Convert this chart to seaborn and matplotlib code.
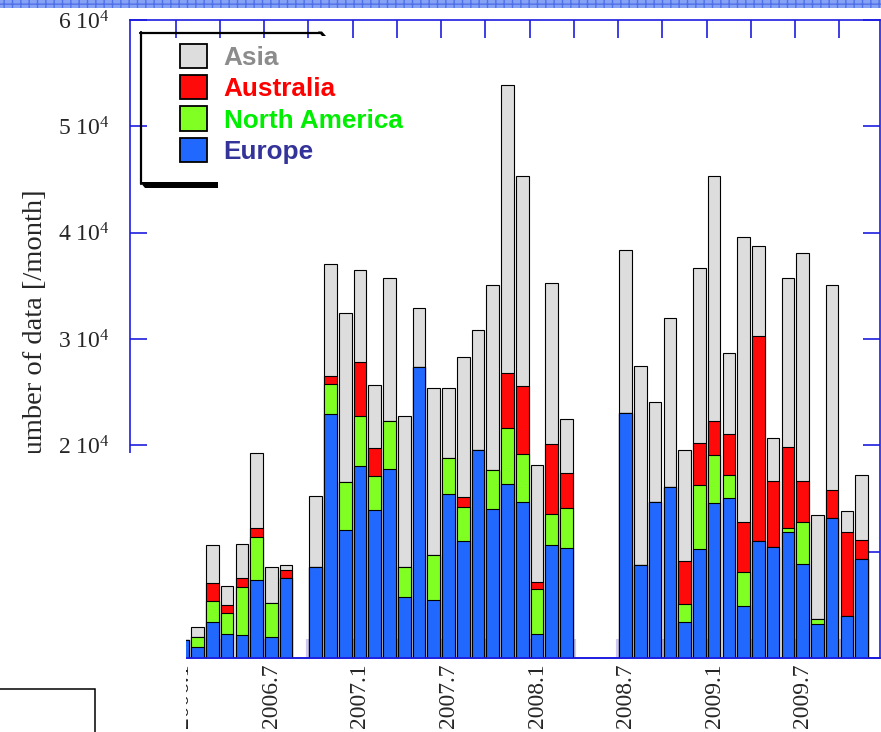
import numpy as np
import pandas as pd
import matplotlib
matplotlib.use("Agg")
import matplotlib.pyplot as plt
import seaborn as sns
from matplotlib.patches import Rectangle, Patch, Polygon
from matplotlib.lines import Line2D
from matplotlib.ticker import FixedLocator

# ---------------- data ----------------
months = [f"{y}.{m}" for y in range(2006, 2010) for m in range(1, 13)]

europe = [1700, 1060, 3360, 2230, 2130, 7310, 1950, 7500, None,
          8570, 22920, 12040, 18060, 13920, 17750, 5740, 27400, 5430, 15400,
          11000, 19570, 14000, 16330, 14690, 2280, 10630, 10390,
          None, None, None,
          23080, 8750, 14650, 16120, 3420, 10290, 14610, 15080, 4860, 11010,
          10470, 11820, 8840, 3170, 13140, 3950, 9310, None]
north_america = [0, 890, 2000, 1970, 4520, 4100, 3250, 0, None,
                 0, 2890, 4520, 4740, 3200, 4550, 2820, 0, 4290, 3390,
                 3200, 0, 3690, 5330, 4530, 4170, 2920, 3680,
                 None, None, None,
                 0, 0, 0, 0, 1630, 5960, 4520, 2110, 3200, 0,
                 0, 380, 3920, 470, 0, 0, 0, None]
australia = [0, 0, 1670, 760, 850, 790, 0, 810, None,
             0, 690, 0, 5020, 2610, 0, 0, 0, 0, 0,
             970, 0, 0, 5110, 6340, 730, 6550, 3310,
             None, None, None,
             0, 0, 0, 0, 4050, 3950, 3140, 3880, 4730, 19280,
             6210, 7620, 3920, 0, 2660, 7930, 1790, None]
asia = [0, 1000, 3600, 1840, 3200, 7110, 3330, 410, None,
        6630, 10600, 15930, 8680, 5950, 13480, 14210, 5500, 15710, 6640,
        13170, 11320, 17370, 27090, 19770, 10930, 15130, 5110,
        None, None, None,
        15330, 18690, 9400, 15830, 10440, 16520, 23070, 7650, 26780, 8410,
        4040, 15900, 21390, 9780, 19290, 1950, 6090, None]

series_names = ["Asia", "Australia", "North America", "Europe"]
series_colors = ["#dcdddc", "#ff0a0a", "#80ff22", "#2168ff"]
label_colors = ["#8c8c8c", "#ff0000", "#00ee00", "#333399"]
xtick_labels = ["2006.1", "2006.7", "2007.1", "2007.7", "2008.1", "2008.7", "2009.1", "2009.7"]
ytick_values = [0, 10000, 20000, 30000, 40000, 50000, 60000]

# ---------------- frame ----------------
sns.set_style("white")
plt.rcParams["font.family"] = ["Liberation Serif", "DejaVu Serif"]
plt.rcParams["mathtext.fontset"] = "custom"
plt.rcParams["mathtext.rm"] = "Liberation Serif"
plt.rcParams["mathtext.it"] = "Liberation Serif:italic"

W, H = 881, 732
fig = plt.figure(figsize=(W / 100, H / 100), dpi=100)
ax = fig.add_axes([130 / W, 1 - 658 / H, 750 / W, 638 / H])

df = pd.DataFrame({"month": months, "Europe": europe, "North America": north_america,
                   "Australia": australia, "Asia": asia}).dropna()
df["c_europe"] = df["Europe"]
df["c_na"] = df["c_europe"] + df["North America"]
df["c_au"] = df["c_na"] + df["Australia"]
df["c_asia"] = df["c_au"] + df["Asia"]

for col, color in zip(["c_asia", "c_au", "c_na", "c_europe"], series_colors):
    sns.barplot(data=df, x="month", y=col, order=months, color=color, saturation=1,
                width=0.85, edgecolor="black", linewidth=0.8, errorbar=None, ax=ax)

blue = "#1c1ce0"
ax.set_xlim(-3.59, 47.25)
ax.set_ylim(0, 60000)
ax.set_xlabel("")
ax.set_ylabel("")

# x ticks: labels at month centres, tick marks every three months (top, solid)
ax.set_xticks([months.index(l) for l in xtick_labels])
ax.set_xticklabels(xtick_labels, rotation=90, fontsize=17, va="top", ha="center")
ax.tick_params(axis="x", which="major", length=0, pad=4, bottom=True, top=False)
minor_pos = np.arange(-0.5, 48, 3)
ax.xaxis.set_minor_locator(FixedLocator(minor_pos))
ax.tick_params(axis="x", which="minor", direction="in", length=13, width=1.2,
               color=blue, bottom=False, top=True)

# faint translucent tick marks on the bottom axis
sec = ax.secondary_xaxis("bottom")
sec.set_xticks(minor_pos)
sec.tick_params(axis="x", which="major", direction="in", length=14, width=3,
                color=(0.45, 0.40, 0.85, 0.35), labelbottom=False)
sec.tick_params(axis="x", which="minor", length=0)
sec.spines["bottom"].set_color(blue)
sec.spines["bottom"].set_linewidth(1.2)

# y ticks
ax.set_yticks(ytick_values)
ax.set_yticklabels(["0"] + [f"{v // 10000} 10$^{{4}}$" for v in ytick_values[1:]], fontsize=17)
ax.tick_params(axis="y", which="major", direction="in", length=12, width=1.2,
               color=blue, left=True, right=True, pad=15)

for s in ax.spines.values():
    s.set_visible(True)
    s.set_color(blue)
    s.set_linewidth(1.2)

# legend
handles = [Patch(facecolor=c, edgecolor="black", linewidth=1.3, label=n)
           for n, c in zip(series_names, series_colors)]
leg = ax.legend(handles=handles, loc="upper left",
                bbox_to_anchor=(180 / W, 1 - 44 / H), bbox_transform=fig.transFigure,
                frameon=False, prop={"family": "Liberation Sans", "weight": "bold", "size": 18.8},
                handlelength=1.05, handleheight=1.05, handletextpad=0.62,
                labelspacing=0.2, borderpad=0, borderaxespad=0, labelcolor=label_colors)

# legend frame remnants
fT = fig.transFigure
fig.add_artist(Line2D([140 / W, 320 / W], [1 - 32.5 / H, 1 - 32.5 / H], color="black", lw=1.6, transform=fT))
fig.add_artist(Line2D([140.5 / W, 140.5 / W], [1 - 32 / H, 1 - 184 / H], color="black", lw=1.6, transform=fT))
fig.add_artist(Polygon([(140 / W, 1 - 181.5 / H), (218 / W, 1 - 181.5 / H), (218 / W, 1 - 187.5 / H),
                        (145 / W, 1 - 187.5 / H)], closed=True, facecolor="black", edgecolor="none", transform=fT))
fig.add_artist(Polygon([(318 / W, 1 - 31.5 / H), (322 / W, 1 - 31.5 / H), (326 / W, 1 - 36 / H),
                        (322 / W, 1 - 36 / H)], closed=True, facecolor="black", edgecolor="none", transform=fT))

# y label
fig.text(36 / W, 1 - 332 / H, "Number of data [/month]", rotation=90, ha="center", va="center",
         fontsize=20.5)

# top hatched band
fig.add_artist(Rectangle((0, 1 - 8 / H), 1, 8 / H, transform=fT, facecolor="#86a2f5",
                         edgecolor="#5070ea", hatch="++", lw=0, zorder=4))

# occluding white area and box at the lower left
fig.add_artist(Rectangle((0, 0), 185.5 / W, (H - 452.5) / H, transform=fT, facecolor="white",
                         edgecolor="none", zorder=5))
fig.add_artist(Rectangle((-0.01, -0.05), 95.5 / W + 0.01, (H - 689) / H + 0.05, transform=fT,
                         facecolor="none", edgecolor="black", lw=1.1, zorder=6))

fig.savefig("out.png", dpi=100)
